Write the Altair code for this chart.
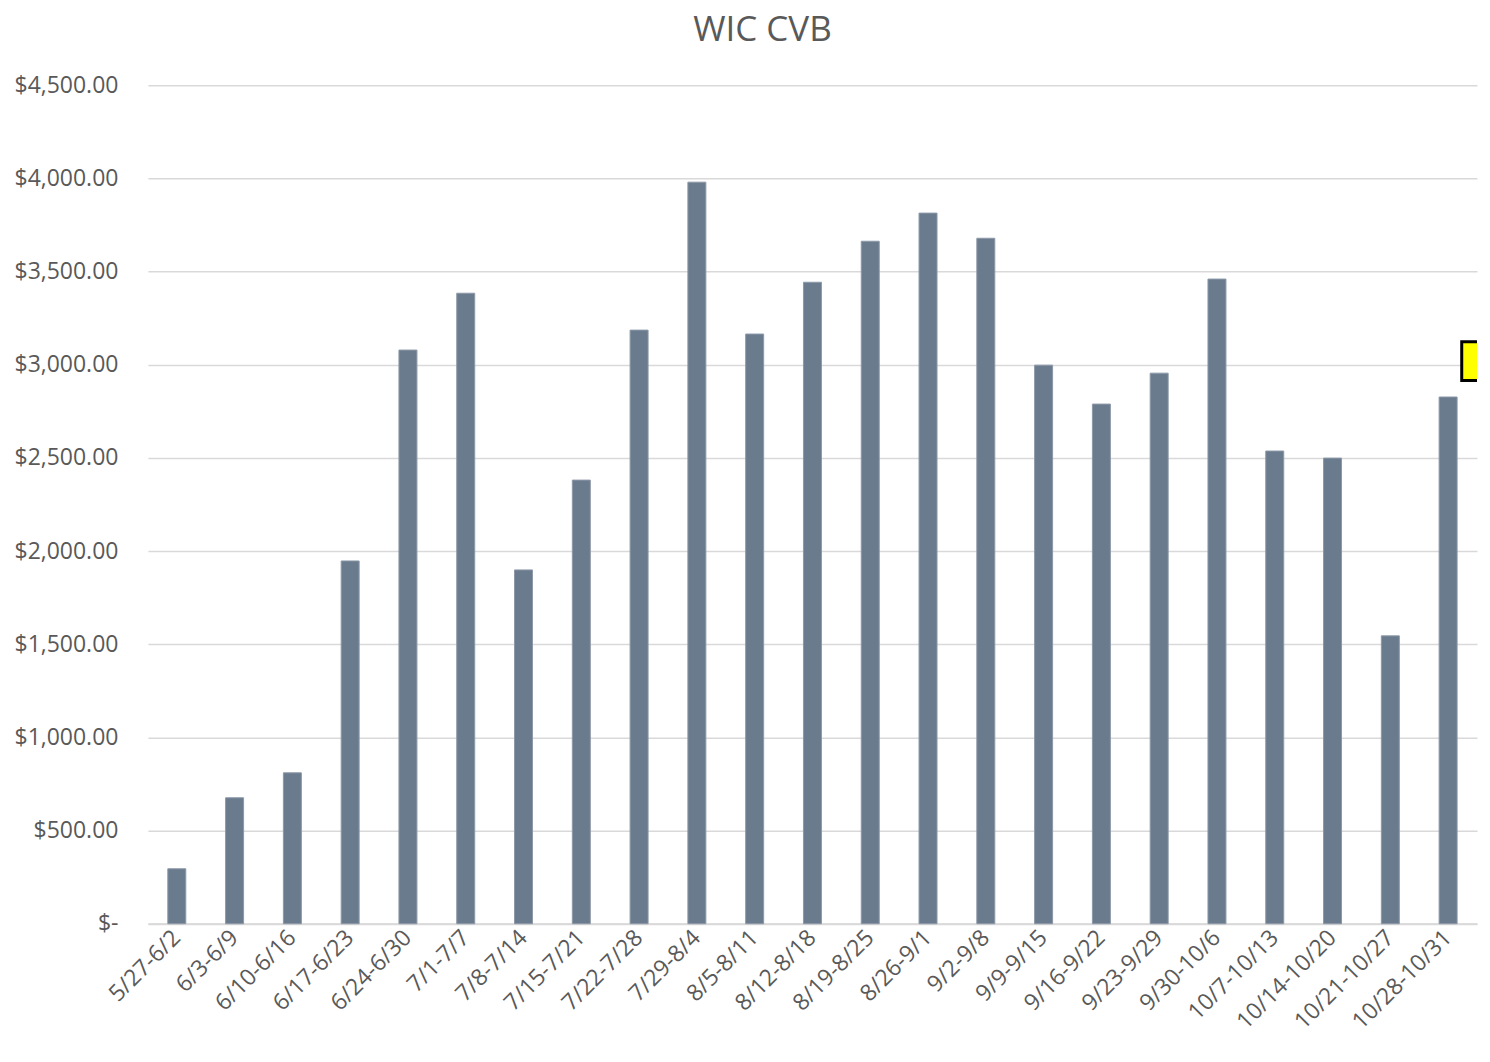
import altair as alt
import pandas as pd

weeks = ["5/27-6/2", "6/3-6/9", "6/10-6/16", "6/17-6/23", "6/24-6/30", "7/1-7/7",
         "7/8-7/14", "7/15-7/21", "7/22-7/28", "7/29-8/4", "8/5-8/11", "8/12-8/18",
         "8/19-8/25", "8/26-9/1", "9/2-9/8", "9/9-9/15", "9/16-9/22", "9/23-9/29",
         "9/30-10/6", "10/7-10/13", "10/14-10/20", "10/21-10/27", "10/28-10/31"]
amounts = [295, 676, 810, 1947, 3079, 3384, 1899, 2381, 3186, 3980, 3165, 3443,
           3663, 3814, 3679, 2998, 2789, 2955, 3460, 2537, 2499, 1545, 2827]
y_ticks = [0, 500, 1000, 1500, 2000, 2500, 3000, 3500, 4000, 4500]

marker_week = ["10/28-10/31"]
marker_value = [3020]

df = pd.DataFrame({"week": weeks, "amount": amounts})
mk = pd.DataFrame({"week": marker_week, "amount": marker_value})

FONT = "Open Sans"
GREY = "#595959"

x_enc = alt.X("week:N", sort=weeks, title=None,
              scale=alt.Scale(paddingInner=0.69, paddingOuter=0.345),
              axis=alt.Axis(labelAngle=-45, labelFontSize=23, labelColor=GREY, labelFont=FONT,
                            ticks=False, domainColor="#d9d9d9", domainWidth=2,
                            labelPadding=10, labelAlign="right", labelBaseline="middle"))
y_enc = alt.Y("amount:Q", title=None,
              scale=alt.Scale(domain=[0, 4500], nice=False),
              axis=alt.Axis(values=y_ticks, labelFontSize=23, labelColor=GREY, labelFont=FONT,
                            ticks=False, domain=False, gridColor="#d9d9d9", gridWidth=1.5,
                            labelPadding=30,
                            labelExpr="datum.value == 0 ? '$-' : '$' + format(datum.value, ',.2f')"))

bars = alt.Chart(df).mark_bar(color="#6a7b8e", stroke="#8d99a8", strokeWidth=1, size=18).encode(
    x=x_enc, y=y_enc)

marker = alt.Chart(mk).mark_square(size=1500, fill="#ffff00", stroke="#000000",
                                   strokeWidth=3, opacity=1, xOffset=33, clip=True).encode(
    x=alt.X("week:N", sort=weeks), y=alt.Y("amount:Q"))

chart = alt.layer(bars, marker).properties(
    width=1330, height=839, background="white",
    title=alt.TitleParams("WIC CVB", fontSize=35, color=GREY, font=FONT, fontWeight="normal",
                          offset=26, anchor="middle", frame="bounds", dx=17),
).configure_view(stroke=None)

chart.save("out.html", embed_options={"renderer": "svg", "actions": False})
